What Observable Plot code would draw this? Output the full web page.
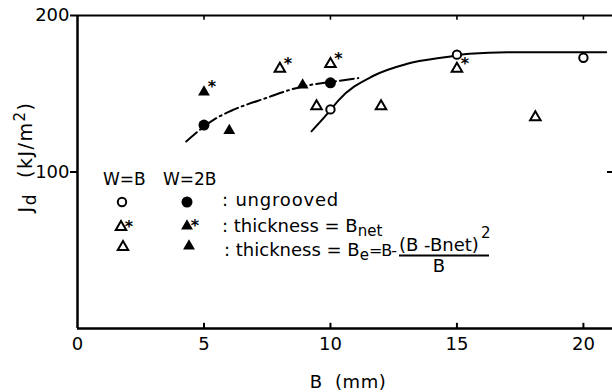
<!DOCTYPE html>
<html>
<head>
<meta charset="utf-8">
<script src="https://cdn.jsdelivr.net/npm/d3@7"></script>
<script src="https://cdn.jsdelivr.net/npm/@observablehq/plot@0.6"></script>
<style>
  html, body { margin: 0; padding: 0; background: #fff; }
  svg { display: block; }
</style>
</head>
<body>
<div id="chart"></div>
<script>
// ---- tick labels ----
const xTicks = [0, 5, 10, 15, 20];
const yTicks = [100, 200];

// ---- measured points (B in mm, Jd in kJ/m^2) ----
// W=B, ungrooved (open circles)
const wbUngB = [10, 15, 20];
const wbUngJ = [140, 175, 173];
// W=2B, ungrooved (filled circles)
const w2bUngB = [5, 10];
const w2bUngJ = [130, 157];
// W=B, thickness = Bnet (open triangles with asterisk)
const wbNetB = [8, 10, 15];
const wbNetJ = [166, 169, 166];
// W=2B, thickness = Bnet (filled triangles with asterisk)
const w2bNetB = [5];
const w2bNetJ = [151];
// W=B, thickness = Be (open triangles)
const wbBeB = [9.45, 12, 18.1];
const wbBeJ = [142, 142, 135];
// W=2B, thickness = Be (filled triangles)
const w2bBeB = [6, 8.9];
const w2bBeJ = [126.5, 155.5];

// ---- hand-drawn trend curves ----
const curveWB_B = [9.25, 10, 10.3, 11.7, 13, 14.6, 15.5, 17, 19.3, 20.9];
const curveWB_J = [126, 139.5, 145.5, 161.5, 169, 173.5, 175.5, 176.5, 176.5, 176.5];
const curveW2B_B = [4.3, 5, 5.5, 6.2, 7.5, 8.4, 9, 10, 11.1];
const curveW2B_J = [119.5, 129, 134.5, 140, 147.5, 152.5, 155, 157.5, 160];

const pts = (bs, js) => bs.map((b, i) => ({B: b, J: js[i]}));

const FONT = "DejaVu Sans";
const xMax = 21.15;

const chart = Plot.plot({
  width: 612,
  height: 392,
  marginLeft: 77,
  marginRight: 0,
  marginTop: 15,
  marginBottom: 64,
  x: {domain: [0, xMax]},
  y: {domain: [0, 200]},
  style: {fontFamily: FONT, fontSize: "18px", color: "#000", background: "#fff"},
  marks: [
    // frame lines
    Plot.ruleY([0], {stroke: "#000", strokeWidth: 2.5}),
    Plot.ruleX([0], {stroke: "#000", strokeWidth: 2.5}),
    Plot.ruleY([200], {stroke: "#000", strokeWidth: 2}),
    // axes
    Plot.axisY({ticks: yTicks, tickSize: 7, tickPadding: 1, strokeWidth: 2, fontSize: 18, label: null}),
    Plot.axisX({ticks: xTicks, tickSize: 0, tickPadding: 9, fontSize: 18, label: null}),
    // inward ticks
    Plot.ruleX(xTicks.slice(1), {y1: 0, y2: 3.3, stroke: "#000", strokeWidth: 2}),
    Plot.ruleX(xTicks.slice(1), {y1: 197, y2: 200, stroke: "#000", strokeWidth: 1.6}),
    Plot.ruleY([100], {x1: xMax - 0.2, x2: xMax, stroke: "#000", strokeWidth: 2}),
    // trend curves
    Plot.line(pts(curveWB_B, curveWB_J), {x: "B", y: "J", curve: "monotone-x", stroke: "#000", strokeWidth: 2}),
    Plot.line(pts(curveW2B_B, curveW2B_J), {x: "B", y: "J", curve: "monotone-x", stroke: "#000", strokeWidth: 2, strokeDasharray: "14,4,2,4"}),
    // points
    Plot.dot(pts(wbUngB, wbUngJ), {x: "B", y: "J", r: 4.2, fill: "#fff", stroke: "#000", strokeWidth: 2}),
    Plot.dot(pts(w2bUngB, w2bUngJ), {x: "B", y: "J", r: 5.5, fill: "#000", stroke: "none"}),
    Plot.dot(pts(wbNetB, wbNetJ), {x: "B", y: "J", symbol: "triangle", r: 3.9, fill: "#fff", stroke: "#000", strokeWidth: 2}),
    Plot.dot(pts(w2bNetB, w2bNetJ), {x: "B", y: "J", symbol: "triangle", r: 4.4, fill: "#000", stroke: "none"}),
    Plot.dot(pts(wbBeB, wbBeJ), {x: "B", y: "J", symbol: "triangle", r: 3.9, fill: "#fff", stroke: "#000", strokeWidth: 2}),
    Plot.dot(pts(w2bBeB, w2bBeJ), {x: "B", y: "J", symbol: "triangle", r: 4.4, fill: "#000", stroke: "none"}),
    // asterisks on the Bnet points
    Plot.text(pts(wbNetB.concat(w2bNetB), wbNetJ.concat(w2bNetJ)), {
      x: "B", y: "J", text: () => "*", dx: 8, dy: -5, fontSize: 16, fontWeight: "bold", fill: "#000"
    })
  ]
});

document.getElementById("chart").appendChild(chart);

// ---- axis titles and legend (pixel layout) ----
const svg = d3.select(chart);
const g = svg.append("g").attr("font-family", FONT).attr("fill", "#000")
  .attr("text-anchor", "start");

// y title
const yt = g.append("text").attr("transform", "translate(32,157) rotate(-90)")
  .attr("text-anchor", "middle").attr("font-size", 19).attr("letter-spacing", 1.5);
yt.append("tspan").text("J");
yt.append("tspan").attr("dy", 4).attr("font-size", 17).text("d");
yt.append("tspan").attr("dy", -4).text("  (kJ/m");
yt.append("tspan").attr("dy", -7).attr("font-size", 15).text("2");
yt.append("tspan").attr("dy", 7).text(")");

// x title
g.append("text").attr("x", 348).attr("y", 388).attr("text-anchor", "middle")
  .attr("font-size", 18).attr("letter-spacing", 0.5).text("B  (mm)");

// legend
const sym = (type, r) => d3.symbol(type, r * r * Math.PI)();
const leg = g.append("g");
leg.append("text").attr("x", 103).attr("y", 185).attr("font-size", 17).text("W=B");
leg.append("text").attr("x", 163).attr("y", 185).attr("font-size", 17).text("W=2B");

const addSym = (type, r, x, y, filled, star) => {
  leg.append("path").attr("d", sym(type, r)).attr("transform", `translate(${x},${y})`)
    .attr("fill", filled ? "#000" : "#fff").attr("stroke", filled ? "none" : "#000")
    .attr("stroke-width", filled ? 0 : 2);
  if (star) {
    leg.append("text").attr("x", x + 8).attr("y", y + 5).attr("text-anchor", "middle")
      .attr("font-size", 16).attr("font-weight", "bold").text("*");
  }
};
addSym(d3.symbolCircle, 4.2, 122, 202, false, false);
addSym(d3.symbolCircle, 5.5, 187, 202, true, false);
addSym(d3.symbolTriangle, 3.9, 121, 227, false, true);
addSym(d3.symbolTriangle, 4.4, 187, 226, true, true);
addSym(d3.symbolTriangle, 3.9, 123, 247, false, false);
addSym(d3.symbolTriangle, 4.4, 189, 246, true, false);

leg.append("text").attr("x", 222).attr("y", 206).attr("font-size", 18).attr("letter-spacing", 0.8).text(": ungrooved");
const r2 = leg.append("text").attr("x", 222).attr("y", 232).attr("font-size", 18);
r2.append("tspan").text(": thickness = B");
r2.append("tspan").attr("dy", 4).attr("font-size", 15).text("net");

const r3 = leg.append("text").attr("x", 224).attr("y", 256).attr("font-size", 18);
r3.append("tspan").text(": thickness = B");
r3.append("tspan").attr("dy", 4).attr("font-size", 15).text("e");
r3.append("tspan").attr("dy", -4).attr("font-size", 16).attr("letter-spacing", -1).text("=B-");
// fraction
leg.append("text").attr("x", 399).attr("y", 251).attr("font-size", 18).text("(B -Bnet)");
leg.append("text").attr("x", 481).attr("y", 238).attr("font-size", 15).text("2");
leg.append("line").attr("x1", 399).attr("x2", 489).attr("y1", 255.5).attr("y2", 255.5)
  .attr("stroke", "#000").attr("stroke-width", 1.8);
leg.append("text").attr("x", 439).attr("y", 272).attr("text-anchor", "middle").attr("font-size", 18).text("B");
</script>
</body>
</html>
